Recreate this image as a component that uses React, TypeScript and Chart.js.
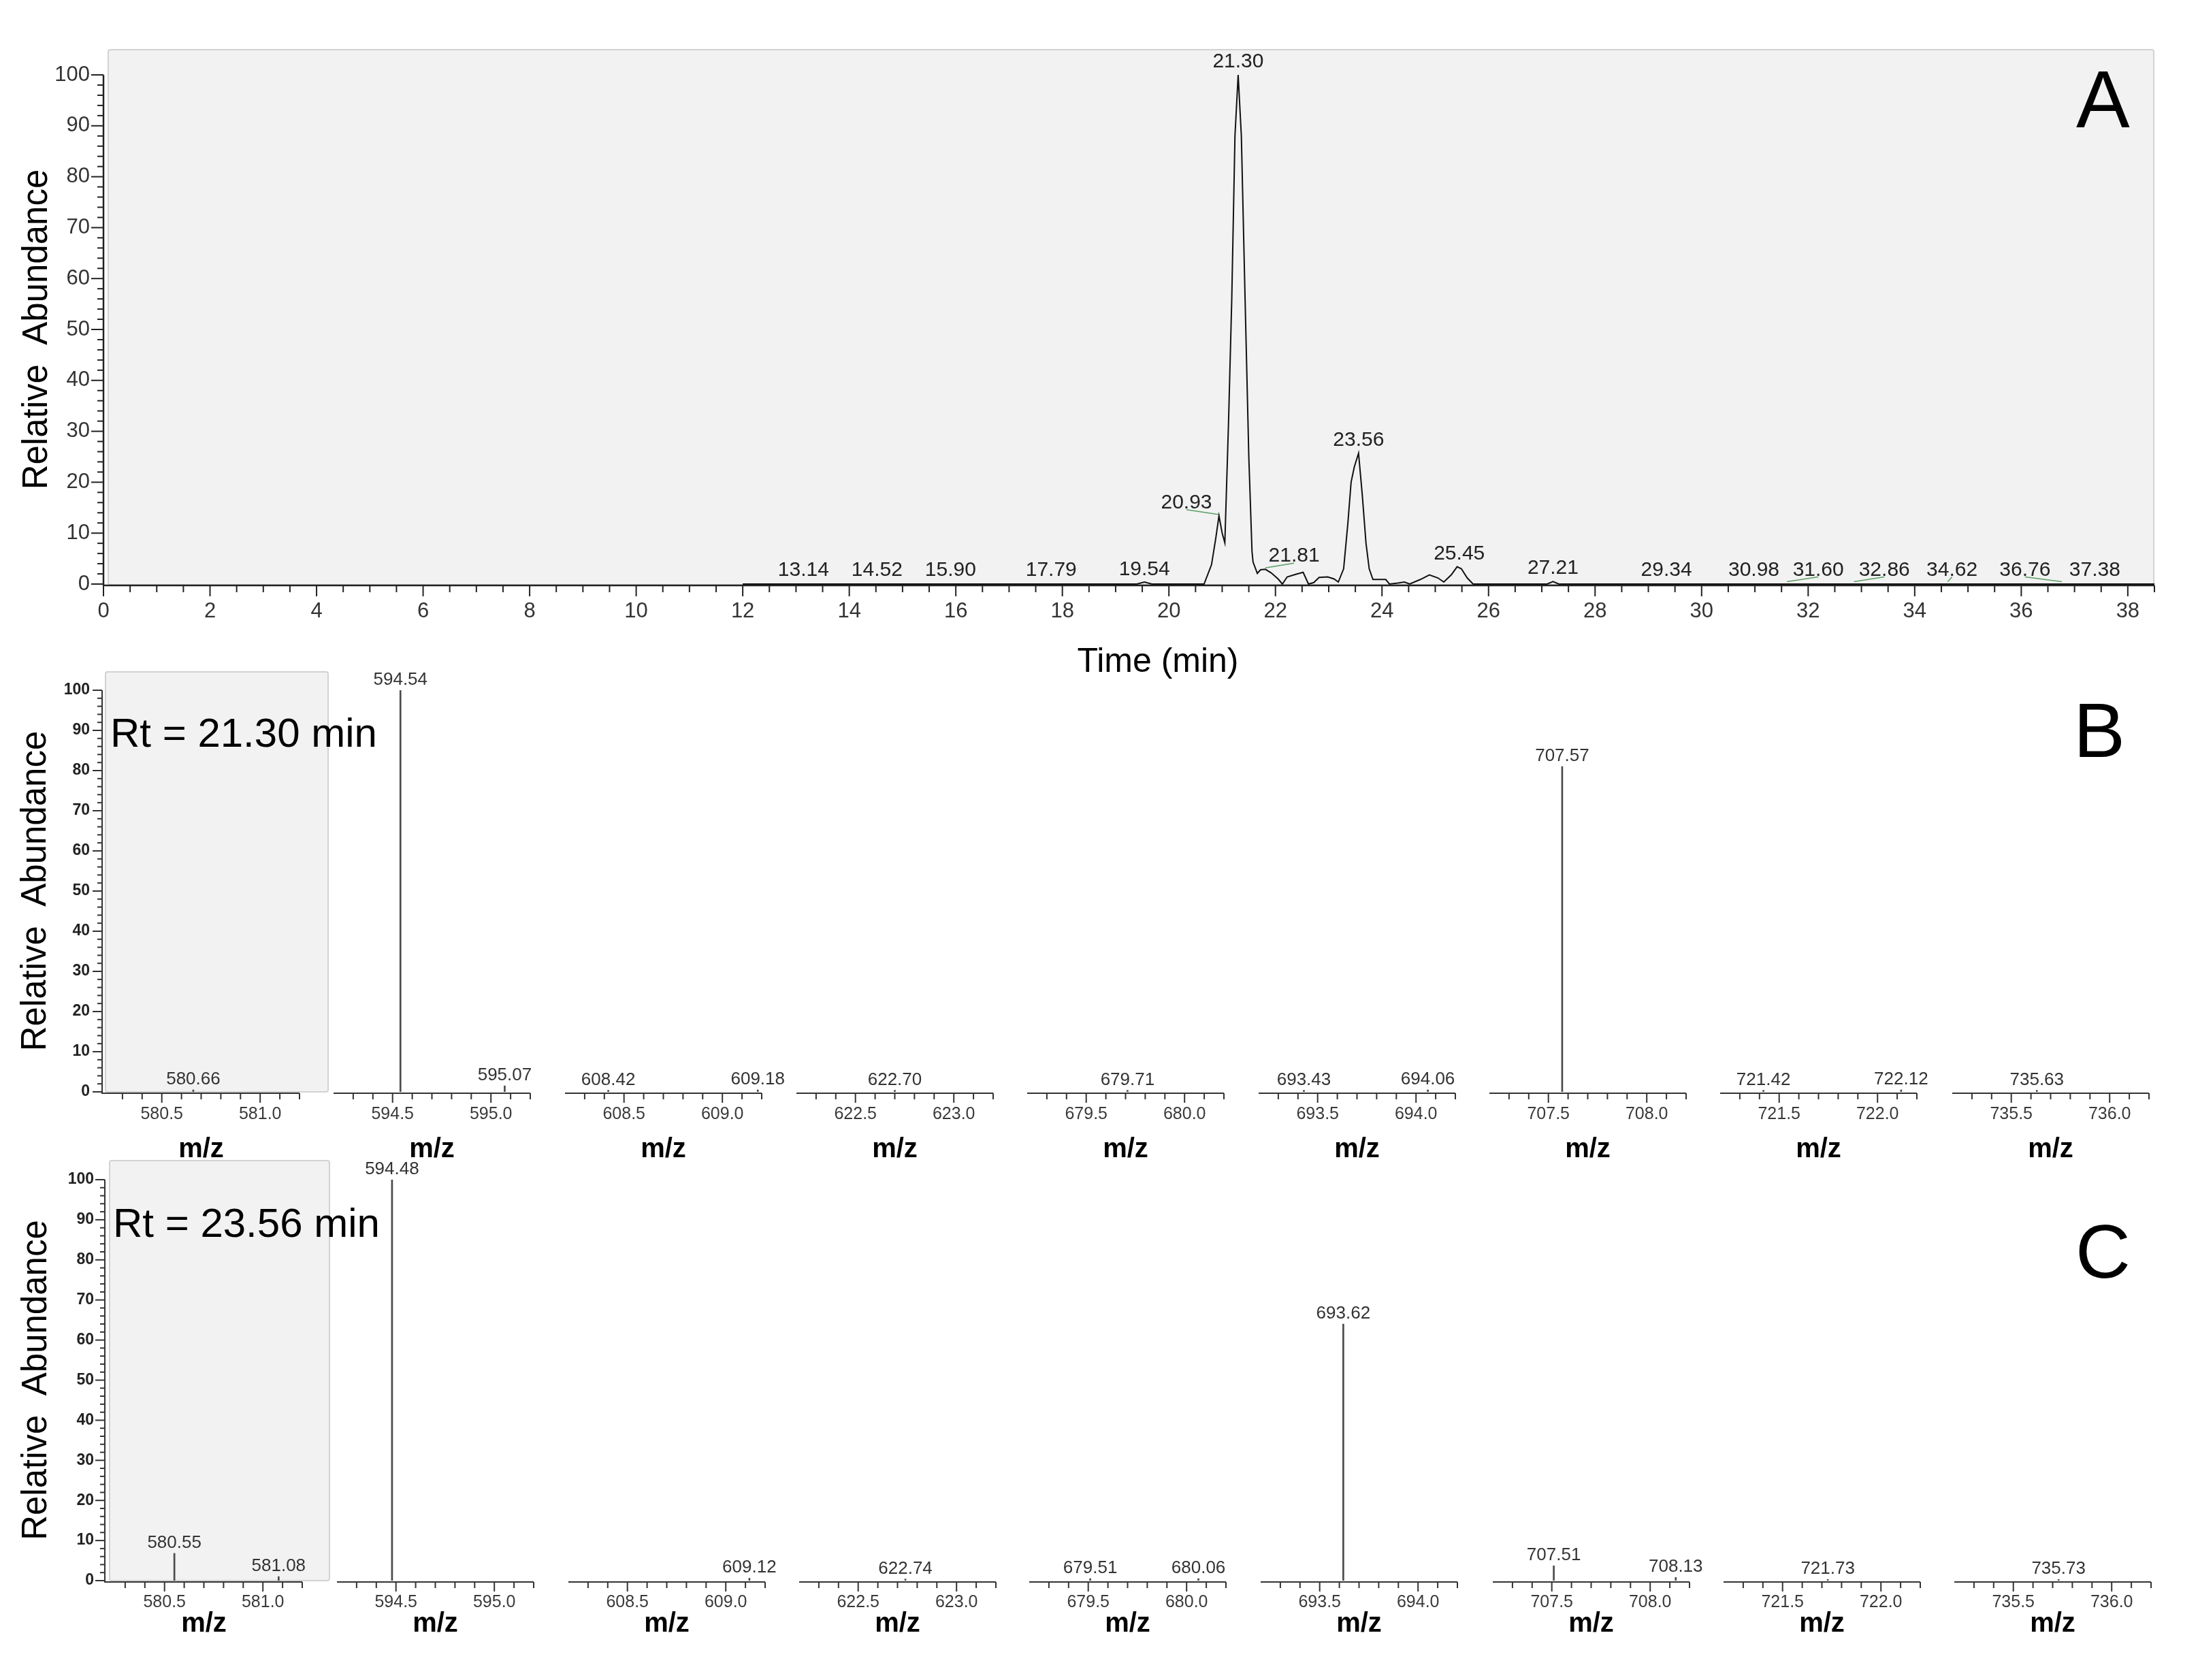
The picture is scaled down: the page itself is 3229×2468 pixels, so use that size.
import React, { useEffect, useRef } from 'react';
import { Chart, registerables } from 'chart.js';

Chart.register(...registerables);

const FONT = '"Liberation Sans", Arial, Helvetica, sans-serif';

// ===================== DATA =====================
// Panel A: chromatogram (time in min, relative abundance %)
const chromTime = [
  12.0, 19.40, 19.54, 19.68, 20.66, 20.80, 20.88, 20.94, 21.00, 21.05,
  21.12, 21.18, 21.24, 21.30, 21.36, 21.43, 21.50, 21.56, 21.58, 21.66,
  21.72, 21.81, 21.92, 22.05, 22.13, 22.22, 22.38, 22.52, 22.62, 22.72,
  22.82, 22.98, 23.10, 23.18, 23.28, 23.36, 23.42, 23.48, 23.56, 23.63,
  23.70, 23.76, 23.83, 24.07, 24.14, 24.30, 24.42, 24.52, 24.72, 24.89,
  25.05, 25.16, 25.30, 25.41, 25.49, 25.60, 25.71, 27.10, 27.21, 27.32,
  38.5,
];
const chromAbund = [
  0, 0, 0.4, 0, 0, 3.8, 9.0, 13.4, 10.0, 8.1,
  32, 56, 88, 100, 88, 56, 25, 6.4, 4.3, 2.1,
  2.8, 2.9, 2.2, 1.0, 0, 1.4, 1.9, 2.3, 0, 0.3,
  1.3, 1.4, 1.0, 0.4, 3.0, 12, 20, 23, 25.7, 17.5,
  8, 3, 0.9, 0.9, 0, 0.2, 0.4, 0, 0.9, 1.8,
  1.2, 0.4, 1.8, 3.4, 3.0, 1.2, 0, 0, 0.5, 0,
  0,
];
// Annotated peaks in panel A
const peakTimesA = [13.14, 14.52, 15.90, 17.79, 19.54, 20.93, 21.30, 21.81, 23.56, 25.45, 27.21, 29.34, 30.98, 31.60, 32.86, 34.62, 36.76, 37.38];
const peakHeightsA = [0.2, 0.2, 0.2, 0.2, 0.3, 13.4, 100, 2.9, 25.7, 3.4, 0.5, 0.2, 0.2, 0.2, 0.2, 0.2, 0.2, 0.2];
const timeTicks = [0, 2, 4, 6, 8, 10, 12, 14, 16, 18, 20, 22, 24, 26, 28, 30, 32, 34, 36, 38];
const abundTicks = [0, 10, 20, 30, 40, 50, 60, 70, 80, 90, 100];

// Panels B & C: broken m/z windows (each window spans base+0.2 .. base+1.2)
const mzWindowBase = [580, 594, 608, 622, 679, 693, 707, 721, 735];
const specB_mz = [580.66, 594.54, 595.07, 608.42, 609.18, 622.70, 679.71, 693.43, 694.06, 707.57, 721.42, 722.12, 735.63];
const specB_int = [0.5, 100, 1.5, 0.4, 0.5, 0.4, 0.4, 0.4, 0.5, 81, 0.4, 0.5, 0.4];
const specC_mz = [580.55, 581.08, 594.48, 609.12, 622.74, 679.51, 680.06, 693.62, 707.51, 708.13, 721.73, 735.73];
const specC_int = [6.8, 1.0, 100, 0.6, 0.4, 0.5, 0.5, 64, 3.7, 0.8, 0.3, 0.3];

// ===================== LAYOUT =====================
const W = 3229;
const H = 2468;
const A_LAYOUT = { canvasH: 1000, plotLeft: 152, plotRight: 3165, plotTop: 110, plotBottom: 858 };
const LABEL_SHIFT_A: Record<string, number> = { '20.93': -0.60, '21.81': 0.54, '31.60': 0.59, '32.86': 0.57, '34.62': 0.08, '36.76': -0.69 };
const B_LAYOUT = { starts: [151, 490, 830, 1170, 1509, 1849, 2188, 2527, 2868], width: 289, canvasTop: 960, canvasBottom: 1720, plotTop: 1014, plotBottom: 1604, tickPad: 18, titlePad: 7, yTitlePad: 22.4, yTickPad: 19 };
const C_LAYOUT = { starts: [155, 495, 835, 1174, 1512, 1852, 2193, 2532, 2871], width: 289, canvasTop: 1680, canvasBottom: 2440, plotTop: 1733, plotBottom: 2322, tickPad: 17.4, titlePad: 30, yTitlePad: 23.8, yTickPad: 17 };

type Spec = { key: string; left: number; top: number; width: number; height: number; config: () => any };

// ===================== PLUGINS =====================
function chromDecor() {
  return {
    id: 'chromDecor',
    afterDatasetsDraw(chart: any) {
      const { ctx } = chart;
      const x = chart.scales.x;
      const y = chart.scales.y;
      const y0 = y.getPixelForValue(0);
      const axisY = y0 + 2;
      const x0 = x.getPixelForValue(0);
      ctx.save();
      ctx.strokeStyle = '#222';
      ctx.lineWidth = 2.5;
      ctx.beginPath();
      ctx.moveTo(x0, y.getPixelForValue(100));
      ctx.lineTo(x0, axisY);
      ctx.moveTo(x0 - 1, axisY);
      ctx.lineTo(x.getPixelForValue(x.max), axisY);
      ctx.stroke();
      ctx.lineWidth = 2;
      for (let k = 0; k <= 77; k++) {
        const px = x.getPixelForValue(k * 0.5);
        const len = k % 4 === 0 ? 16 : 10;
        ctx.beginPath();
        ctx.moveTo(px, axisY);
        ctx.lineTo(px, axisY + len);
        ctx.stroke();
      }
      for (let v = 0; v <= 100; v += 2) {
        const py = y.getPixelForValue(v);
        const len = v % 10 === 0 ? 18 : 9;
        ctx.beginPath();
        ctx.moveTo(x0, py);
        ctx.lineTo(x0 - len, py);
        ctx.stroke();
      }
      // peak annotations
      ctx.font = `30px ${FONT}`;
      ctx.textAlign = 'center';
      ctx.textBaseline = 'alphabetic';
      peakTimesA.forEach((t, i) => {
        const txt = t.toFixed(2);
        const shift = LABEL_SHIFT_A[txt] || 0;
        const px = x.getPixelForValue(t);
        const py = y.getPixelForValue(peakHeightsA[i]);
        const lx = x.getPixelForValue(t + shift);
        const base = py - 11;
        if (shift !== 0) {
          ctx.strokeStyle = '#5a9e62';
          ctx.lineWidth = 1.6;
          ctx.beginPath();
          ctx.moveTo(lx, base + 2);
          ctx.lineTo(px, py - 2);
          ctx.stroke();
        }
        ctx.fillStyle = '#222';
        ctx.fillText(txt, lx, base);
      });
      ctx.restore();
    },
  };
}

function specDecor(base: number, mzs: number[], ints: number[], showY: boolean) {
  return {
    id: 'specDecor',
    afterDatasetsDraw(chart: any) {
      const { ctx } = chart;
      const x = chart.scales.x;
      const y = chart.scales.y;
      const y0 = y.getPixelForValue(0);
      const axisY = y0 + 2;
      ctx.save();
      ctx.strokeStyle = '#333';
      ctx.lineWidth = 2;
      ctx.beginPath();
      ctx.moveTo(x.getPixelForValue(x.min) - (showY ? 2 : 0), axisY);
      ctx.lineTo(x.getPixelForValue(x.max), axisY);
      ctx.stroke();
      for (let k = 3; k <= 12; k++) {
        const px = x.getPixelForValue(base + k / 10);
        const len = k === 5 || k === 10 ? 14 : 9;
        ctx.beginPath();
        ctx.moveTo(px, axisY);
        ctx.lineTo(px, axisY + len);
        ctx.stroke();
      }
      if (showY) {
        const ax = x.getPixelForValue(x.min) - 1;
        ctx.beginPath();
        ctx.moveTo(ax, y.getPixelForValue(100));
        ctx.lineTo(ax, axisY);
        ctx.stroke();
        for (let v = 0; v <= 100; v += 2) {
          const py = y.getPixelForValue(v);
          const len = v % 10 === 0 ? 14 : 7;
          ctx.beginPath();
          ctx.moveTo(ax, py);
          ctx.lineTo(ax - len, py);
          ctx.stroke();
        }
      }
      ctx.fillStyle = '#333';
      ctx.font = `26px ${FONT}`;
      ctx.textAlign = 'center';
      ctx.textBaseline = 'alphabetic';
      mzs.forEach((m, i) => {
        if (m < x.min || m > x.max) return;
        ctx.fillText(m.toFixed(2), x.getPixelForValue(m), y.getPixelForValue(ints[i]) - 8);
      });
      ctx.restore();
    },
  };
}

// ===================== SPECS =====================
function chromSpec(): Spec {
  const L = A_LAYOUT;
  return {
    key: 'A',
    left: 0,
    top: 0,
    width: W,
    height: L.canvasH,
    config: () => ({
      type: 'line',
      data: {
        datasets: [
          {
            data: chromTime.map((t, i) => ({ x: t, y: chromAbund[i] })),
            borderColor: '#111',
            borderWidth: 2,
            pointRadius: 0,
            tension: 0,
            fill: false,
            clip: false,
          },
        ],
      },
      options: {
        responsive: false,
        animation: false,
        devicePixelRatio: 1,
        events: [],
        layout: { padding: { left: 0, right: W - L.plotRight, top: L.plotTop, bottom: 0 } },
        plugins: { legend: { display: false }, tooltip: { enabled: false }, title: { display: false } },
        scales: {
          x: {
            type: 'linear',
            min: 0,
            max: 38.5,
            offset: false,
            grid: { display: false, drawTicks: false },
            border: { display: false },
            afterBuildTicks: (s: any) => { s.ticks = timeTicks.map((v) => ({ value: v })); },
            afterFit: (s: any) => { s.height = L.canvasH - L.plotBottom; },
            ticks: { autoSkip: false, maxRotation: 0, padding: 21.4, color: '#333', font: { family: FONT, size: 31 }, callback: (v: any) => String(v) },
          },
          y: {
            type: 'linear',
            min: 0,
            max: 100,
            grid: { display: false, drawTicks: false },
            border: { display: false },
            afterBuildTicks: (s: any) => { s.ticks = abundTicks.map((v) => ({ value: v })); },
            afterFit: (s: any) => { s.width = L.plotLeft; },
            ticks: { padding: 20, color: '#333', font: { family: FONT, size: 31 }, callback: (v: any) => String(v) },
            title: { display: true, text: 'Relative  Abundance', color: '#000', font: { family: FONT, size: 51 }, padding: { top: 24.4, bottom: 0 } },
          },
        },
      },
      plugins: [chromDecor()],
    }),
  };
}

function spectrumSpec(panel: 'B' | 'C', idx: number, mzs: number[], ints: number[]): Spec {
  const L = panel === 'B' ? B_LAYOUT : C_LAYOUT;
  const base = mzWindowBase[idx];
  const first = idx === 0;
  const start = L.starts[idx];
  const padR = 45;
  const padL = first ? 0 : 45;
  const left = first ? 0 : start - padL;
  const width = first ? start + L.width + padR : L.width + padL + padR;
  const height = L.canvasBottom - L.canvasTop;
  const xmin = base + 0.2;
  const xmax = base + 1.2;
  const pts = mzs.map((m, i) => ({ x: m, y: ints[i] })).filter((p) => p.x >= xmin && p.x <= xmax);
  return {
    key: panel + idx,
    left,
    top: L.canvasTop,
    width,
    height,
    config: () => ({
      type: 'bar',
      data: {
        datasets: [
          { data: pts, backgroundColor: '#4a4a4a', borderWidth: 0, barThickness: 2, grouped: false },
        ],
      },
      options: {
        responsive: false,
        animation: false,
        devicePixelRatio: 1,
        events: [],
        layout: { padding: { left: padL, right: padR, top: L.plotTop - L.canvasTop, bottom: 0 } },
        plugins: { legend: { display: false }, tooltip: { enabled: false }, title: { display: false } },
        scales: {
          x: {
            type: 'linear',
            min: xmin,
            max: xmax,
            offset: false,
            grid: { display: false, drawTicks: false, offset: false },
            border: { display: false },
            afterBuildTicks: (s: any) => { s.ticks = [{ value: base + 0.5 }, { value: base + 1.0 }]; },
            afterFit: (s: any) => { s.height = L.canvasBottom - L.plotBottom; },
            ticks: { autoSkip: false, maxRotation: 0, padding: L.tickPad, color: '#3a3a3a', font: { family: FONT, size: 25 }, callback: (v: any) => Number(v).toFixed(1) },
            title: { display: true, text: 'm/z', color: '#000', font: { family: FONT, size: 40, weight: 'bold' }, padding: { top: 0, bottom: L.titlePad } },
          },
          y: {
            type: 'linear',
            min: 0,
            max: 100,
            display: first,
            grid: { display: false, drawTicks: false },
            border: { display: false },
            afterBuildTicks: (s: any) => { s.ticks = abundTicks.map((v) => ({ value: v })); },
            afterFit: (s: any) => { s.width = first ? start : 0; },
            ticks: { padding: L.yTickPad, color: '#222', font: { family: FONT, size: 23, weight: 'bold' }, callback: (v: any) => String(v) },
            title: { display: true, text: 'Relative  Abundance', color: '#000', font: { family: FONT, size: 51 }, padding: { top: L.yTitlePad, bottom: 0 } },
          },
        },
      },
      plugins: [specDecor(base, mzs, ints, first)],
    }),
  };
}

const SPECS: Spec[] = [
  chromSpec(),
  ...mzWindowBase.map((_, i) => spectrumSpec('B', i, specB_mz, specB_int)),
  ...mzWindowBase.map((_, i) => spectrumSpec('C', i, specC_mz, specC_int)),
];

const GRAY_BOXES = [
  { left: 158, top: 72, width: 3007, height: 788 },
  { left: 154, top: 986, width: 329, height: 619 },
  { left: 160, top: 1704, width: 325, height: 619 },
];

const TEXTS = [
  { text: 'A', left: 3050, top: 87, size: 118 },
  { text: 'B', left: 3046, top: 1016, size: 114 },
  { text: 'C', left: 3049, top: 1783, size: 112 },
  { text: 'Rt = 21.30 min', left: 162, top: 1047, size: 60 },
  { text: 'Rt = 23.56 min', left: 166, top: 1767, size: 60 },
];

function ChartCanvas({ spec }: { spec: Spec }) {
  const ref = useRef<HTMLCanvasElement | null>(null);
  useEffect(() => {
    if (!ref.current) return;
    const chart = new Chart(ref.current, spec.config());
    return () => chart.destroy();
  }, [spec]);
  return (
    <canvas
      ref={ref}
      width={spec.width}
      height={spec.height}
      style={{ position: 'absolute', left: spec.left, top: spec.top, width: spec.width, height: spec.height }}
    />
  );
}

export default function App() {
  return (
    <div style={{ position: 'absolute', left: 0, top: 0, width: W, height: H, background: '#fff', overflow: 'hidden', fontFamily: FONT }}>
      {GRAY_BOXES.map((b, i) => (
        <div
          key={'g' + i}
          style={{
            position: 'absolute', left: b.left, top: b.top, width: b.width, height: b.height,
            background: '#f2f2f2', border: '2px solid #d2d2d2', borderRadius: 4, boxSizing: 'border-box',
          }}
        />
      ))}
      {SPECS.map((s) => (
        <ChartCanvas key={s.key} spec={s} />
      ))}
      {TEXTS.map((t, i) => (
        <div
          key={'t' + i}
          style={{ position: 'absolute', left: t.left, top: t.top, fontSize: t.size, lineHeight: `${t.size}px`, color: '#000', whiteSpace: 'nowrap' }}
        >
          {t.text}
        </div>
      ))}
      <div style={{ position: 'absolute', left: 1401, width: 600, top: 945, fontSize: 50, lineHeight: '50px', textAlign: 'center', color: '#000', whiteSpace: 'nowrap' }}>
        Time (min)
      </div>
    </div>
  );
}
